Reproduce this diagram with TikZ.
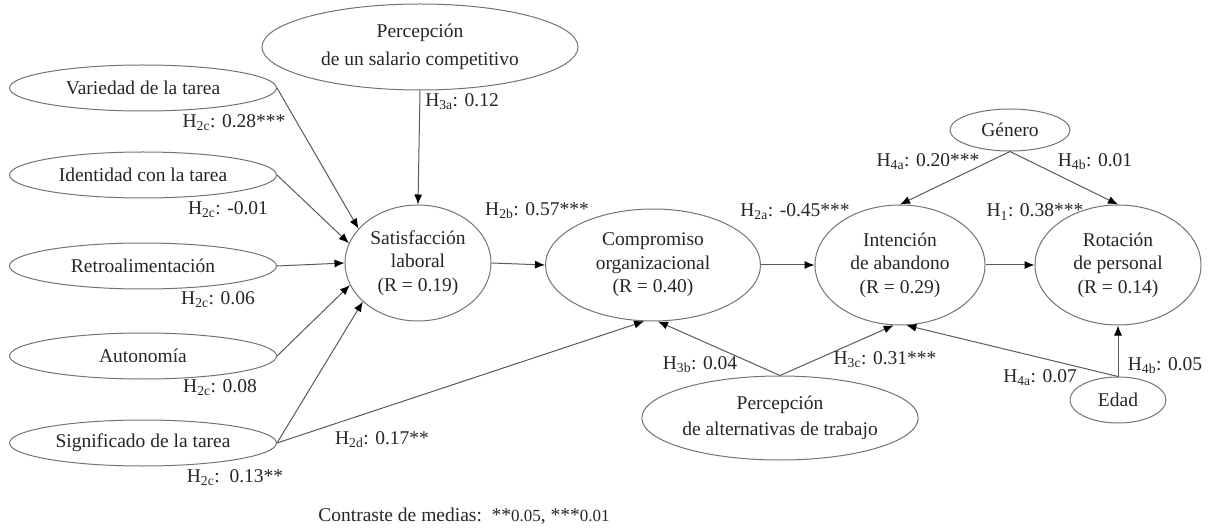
\documentclass[tikz,border=0pt]{standalone}
\usepackage{fontspec}
\setmainfont{Liberation Serif}
\usetikzlibrary{shapes.geometric,arrows.meta}
\newcommand{\hyp}[1]{H\textsubscript{#1}}

\begin{document}
\begin{tikzpicture}[x=1pt,y=-1pt,
  every node/.style={font=\fontsize{19.5}{23.5}\selectfont, text=black!85},
  latent/.style={draw=black!55, line width=1pt, ellipse, inner sep=0pt, align=center},
  factor/.style={latent, minimum width=267pt, minimum height=46pt},
  arr/.style={draw=black!65, line width=1pt, -{Latex[length=10pt,width=8pt,black]}},
  coef/.style={inner sep=1pt}]
  \useasboundingbox (0,0) rectangle (1210,529);
  % latent variables
  \node[latent, minimum width=316pt, minimum height=86pt] (sal) at (420,47) {Percepción\\[4pt]de un salario competitivo};
  \node[factor] (var) at (143,88) {Variedad de la tarea};
  \node[factor] (ide) at (143,175) {Identidad con la tarea};
  \node[factor] (ret) at (143,266) {Retroalimentación};
  \node[factor] (aut) at (143,356) {Autonomía};
  \node[factor] (sig) at (143,443) {Significado de la tarea};
  \node[latent, minimum width=146pt, minimum height=116pt] (sat) at (418,263) {Satisfacción\\laboral\\(R = 0.19)};
  \node[latent, minimum width=215pt, minimum height=112pt] (comp) at (653,265) {Compromiso\\organizacional\\(R = 0.40)};
  \node[latent, minimum width=170pt, minimum height=120pt] (int) at (900,265) {Intención\\de abandono\\(R = 0.29)};
  \node[latent, minimum width=166pt, minimum height=120pt] (rot) at (1118,265) {Rotación\\de personal\\(R = 0.14)};
  \node[latent, minimum width=120pt, minimum height=42pt] (gen) at (1010,130) {Género};
  \node[latent, minimum width=96pt, minimum height=46pt] (edad) at (1118,400) {Edad};
  \node[latent, minimum width=272pt, minimum height=84pt] (alt) at (780,418) {Percepción\\[3pt]de alternativas de trabajo};

  % paths
  \draw[arr] (sal.south) -- (sat.north);
  \draw[arr] (var.east) -- (sat.150);
  \draw[arr] (ide.east) -- (sat.164);
  \draw[arr] (ret.east) -- (sat.west);
  \draw[arr] (aut.east) -- (sat.198);
  \draw[arr] (sig.east) -- (sat.215);
  \draw[arr] (sig.east) -- (comp.261);
  \draw[arr] (sat.east) -- (comp.west);
  \draw[arr] (comp.east) -- (int.west);
  \draw[arr] (int.east) -- (rot.west);
  \draw[arr] (alt.north) -- (comp.275);
  \draw[arr] (alt.north) -- (int.264);
  \draw[arr] (edad.north) -- (int.276);
  \draw[arr] (edad.north) -- (rot.south);
  \draw[arr] (gen.south) -- (int.north);
  \draw[arr] (gen.south) -- (rot.north);

  % coefficients
  \node[coef] (c1) at (234,123) {\hyp{2c}: 0.28***};
  \node[coef] (c2) at (462,102) {\hyp{3a}: 0.12};
  \node[coef] (c3) at (228,210) {\hyp{2c}: -0.01};
  \node[coef] (c4) at (537,211) {\hyp{2b}: 0.57***};
  \node[coef] (c5) at (218,300) {\hyp{2c}: 0.06};
  \node[coef] (c6) at (220,388) {\hyp{2c}: 0.08};
  \node[coef] (c7) at (235,478) {\hyp{2c}:\ \ 0.13**};
  \node[coef] (c8) at (382,440) {\hyp{2d}: 0.17**};
  \node[coef] (c9) at (795,212) {\hyp{2a}: -0.45***};
  \node[coef] (c10) at (928,162) {\hyp{4a}: 0.20***};
  \node[coef] (c11) at (1095,162) {\hyp{4b}: 0.01};
  \node[coef] (c12) at (1035,212) {\hyp{1}: 0.38***};
  \node[coef] (c13) at (700,365) {\hyp{3b}: 0.04};
  \node[coef] (c14) at (885,360) {\hyp{3c}: 0.31***};
  \node[coef] (c15) at (1040,378) {\hyp{4a}: 0.07};
  \node[coef] (c16) at (1165,366) {\hyp{4b}: 0.05};
  \node[coef] (note) at (464,516) {Contraste de medias:\ \ **{\fontsize{17}{18}\selectfont 0.05}, ***{\fontsize{17}{18}\selectfont 0.01}};
\end{tikzpicture}
\end{document}
